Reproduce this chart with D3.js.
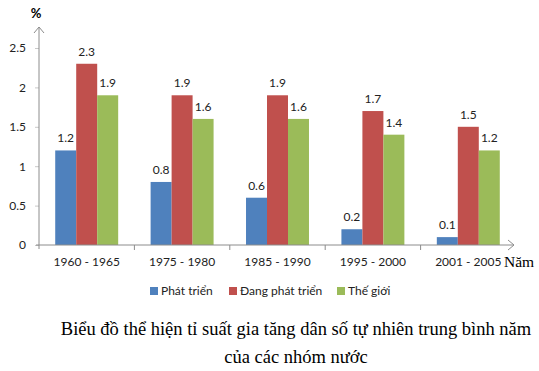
<!DOCTYPE html>
<html>
<head>
<meta charset="utf-8">
<script src="https://cdn.jsdelivr.net/npm/d3@7"></script>
<style>
  body { margin: 0; background: #fff; }
  text { font-family: Lato, "Open Sans", sans-serif; }
</style>
</head>
<body>
<div id="chart"></div>
<script>
/* Dữ liệu */
var periods = ["1960 - 1965", "1975 - 1980", "1985 - 1990", "1995 - 2000", "2001 - 2005"];
var seriesNames = ["Phát triển", "Đang phát triển", "Thế giới"];
var developed = [1.2, 0.8, 0.6, 0.2, 0.1];
var developing = [2.3, 1.9, 1.9, 1.7, 1.5];
var world = [1.9, 1.6, 1.6, 1.4, 1.2];
var yTicks = [0, 0.5, 1, 1.5, 2, 2.5];
var colors = ["#4F81BD", "#C0504D", "#9BBB59"];

var W = 539, H = 371;
var margin = {top: 48, left: 39, right: 23, bottom: 126};
var width = W - margin.left - margin.right, height = H - margin.top - margin.bottom;
var axisColor = "#8c8c8c";

var svg = d3.select("#chart").append("svg").attr("width", W).attr("height", H);
var g = svg.append("g").attr("transform", "translate(" + margin.left + "," + margin.top + ")");

var x0 = d3.scaleBand().domain(periods).range([0, width]);
var x1 = d3.scaleBand().domain(seriesNames).range([x0.bandwidth() * 0.17, x0.bandwidth() * 0.83]);
var y = d3.scaleLinear().domain([0, 2.5]).range([height, 0]);

var rows = periods.map(function(p, i) { return {period: p, values: [developed[i], developing[i], world[i]]}; });

/* Cột */
var grp = g.selectAll(".grp").data(rows).enter().append("g").attr("transform", function(d) { return "translate(" + x0(d.period) + ",0)"; });
grp.selectAll("rect").data(function(d) { return d.values.map(function(v, k) { return {name: seriesNames[k], v: v, k: k}; }); })
  .enter().append("rect")
  .attr("x", function(d) { return x1(d.name); })
  .attr("width", x1.bandwidth())
  .attr("y", function(d) { return y(d.v); })
  .attr("height", function(d) { return height - y(d.v); })
  .attr("fill", function(d) { return colors[d.k]; });
grp.selectAll("text.val").data(function(d) { return d.values.map(function(v, k) { return {name: seriesNames[k], v: v}; }); })
  .enter().append("text").attr("class", "val")
  .attr("x", function(d) { return x1(d.name) + x1.bandwidth() / 2; })
  .attr("y", function(d) { return y(d.v) - 8; })
  .attr("text-anchor", "middle").attr("font-size", "12px").attr("fill", "#222")
  .text(function(d) { return d.v; });

/* Trục Y */
var yAxis = g.append("g").call(d3.axisLeft(y).tickValues(yTicks).tickSize(4).tickPadding(9).tickFormat(d3.format("")));
yAxis.select(".domain").remove();
yAxis.selectAll("line").attr("stroke", "#c8c8c8");
yAxis.selectAll("text").attr("font-size", "12px").attr("fill", "#222").style("font-family", "Lato, sans-serif");
g.append("line").attr("x1", 0).attr("x2", 0).attr("y1", height + 4).attr("y2", -21).attr("stroke", axisColor);
g.append("path").attr("d", "M-5,-15 L0,-21 L5,-15").attr("fill", "none").attr("stroke", axisColor);
svg.append("text").attr("x", 36).attr("y", 18).attr("text-anchor", "middle").attr("font-size", "13px").attr("font-weight", "bold").text("%");

/* Trục X */
var xAxis = g.append("g").attr("transform", "translate(0," + height + ")")
  .call(d3.axisBottom(x0).tickSize(0).tickPadding(12));
xAxis.select(".domain").remove();
xAxis.selectAll("text").attr("font-size", "12px").attr("fill", "#222").style("font-family", "Lato, sans-serif");
g.append("line").attr("x1", -3).attr("x2", width - 2).attr("y1", height).attr("y2", height).attr("stroke", axisColor);
g.append("path").attr("d", "M" + (width - 8) + "," + (height - 5) + " L" + (width - 2) + "," + height + " L" + (width - 8) + "," + (height + 5)).attr("fill", "none").attr("stroke", axisColor);
g.selectAll(".sep").data(periods.slice(1)).enter().append("line")
  .attr("x1", function(d) { return x0(d); }).attr("x2", function(d) { return x0(d); })
  .attr("y1", height).attr("y2", height + 5).attr("stroke", axisColor);
svg.append("text").attr("x", 504).attr("y", 267).attr("font-size", "15.5px").style("font-family", "'Liberation Serif', serif").text("Năm");

/* Chú giải */
var legendX = [150, 229, 337];
var leg = svg.selectAll(".leg").data(seriesNames).enter().append("g").attr("transform", function(d, i) { return "translate(" + legendX[i] + ",291)"; });
leg.append("rect").attr("x", 0).attr("y", -4).attr("width", 8).attr("height", 8).attr("fill", function(d, i) { return colors[i]; });
leg.append("text").attr("x", 11).attr("y", 4).attr("font-size", "12px").attr("fill", "#222").text(function(d) { return d; });

/* Tiêu đề */
var caption = ["Biểu đồ thể hiện tỉ suất gia tăng dân số tự nhiên trung bình năm", "của các nhóm nước"];
svg.selectAll(".cap").data(caption).enter().append("text")
  .attr("x", 296).attr("y", function(d, i) { return 335 + i * 28; })
  .attr("text-anchor", "middle").attr("font-size", "18.5px").style("font-family", "'Liberation Serif', serif")
  .text(function(d) { return d; });
</script>
</body>
</html>
